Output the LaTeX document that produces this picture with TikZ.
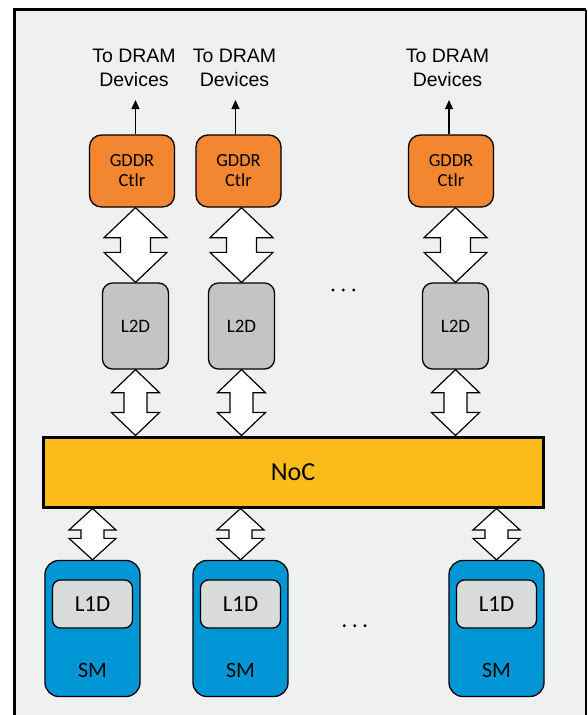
\documentclass[tikz,border=0pt]{standalone}
\usepackage{fontspec}
\setmainfont{Carlito}
\newfontfamily\arialfont{Liberation Sans}
\usetikzlibrary{arrows.meta,calc}

\definecolor{panelbg}{HTML}{EFF0F0}
\definecolor{gddrfill}{HTML}{F38630}
\definecolor{l2fill}{HTML}{C3C4C3}
\definecolor{nocfill}{HTML}{FBBC1B}
\definecolor{smfill}{HTML}{0095D5}
\definecolor{l1fill}{HTML}{D9DADA}

\tikzset{
  gddrbox/.style={draw=black, line width=1.3pt, fill=gddrfill, rounded corners=12pt,
    minimum width=85pt, minimum height=72pt, inner sep=0pt, align=center,
    font=\fontsize{18.5}{20}\selectfont},
  l2box/.style={draw=black, line width=1.3pt, fill=l2fill, rounded corners=10pt,
    minimum width=66pt, minimum height=86pt, inner sep=0pt,
    font=\fontsize{19}{20}\selectfont},
  smbox/.style={draw=black, line width=1.3pt, fill=smfill, rounded corners=14pt,
    minimum width=95pt, minimum height=136pt, inner sep=0pt},
  l1box/.style={draw=black, line width=1.3pt, fill=l1fill, rounded corners=8pt,
    minimum width=80pt, minimum height=48pt, inner sep=0pt,
    font=\fontsize{23}{24}\selectfont},
  smlabel/.style={font=\fontsize{22}{24}\selectfont, inner sep=0pt},
  nocbox/.style={draw=black, line width=3pt, fill=nocfill,
    minimum width=500pt, minimum height=70pt, inner sep=0pt,
    font=\fontsize{26}{28}\selectfont},
  dramlabel/.style={align=center, inner sep=0pt,
    font=\arialfont\fontsize{19.5}{24}\selectfont},
  dramarrow/.style={line width=1.3pt, -{Triangle[width=8pt,length=9pt]}},
  dualstyle/.style={draw=black, fill=white, line width=1.2pt, line join=miter},
  dotmark/.style={fill=black, draw=none}
}

% Hollow double-headed block arrow between two vertically stacked points:
% #1 upper end, #2 lower end (x taken from #2), #3 half head width,
% #4 half shaft width, #5 head length
\newcommand\dualarrow[5]{%
  \path[dualstyle] let \p1=(#1), \p2=(#2) in
    (\x2,\y1) -- (\x2+#3pt,\y1-#5pt) -- (\x2+#4pt,\y1-#5pt)
    -- (\x2+#4pt,\y2+#5pt) -- (\x2+#3pt,\y2+#5pt) -- (\x2,\y2)
    -- (\x2-#3pt,\y2+#5pt) -- (\x2-#4pt,\y2+#5pt)
    -- (\x2-#4pt,\y1-#5pt) -- (\x2-#3pt,\y1-#5pt) -- cycle;}

\begin{document}
\begin{tikzpicture}[x=1pt,y=-1pt]
  % page and panel
  \fill[white] (0,0) rectangle (587,715);
  \useasboundingbox (0,0) rectangle (587,715);
  \fill[panelbg] (15,10) rectangle (586,715);
  \draw[line width=3pt] (14.5,715) -- (14.5,9.5) -- (586,9.5);
  \draw[line width=1.5pt] (585.8,9.5) -- (585.8,715);

  % memory controllers
  \node[gddrbox] (g1) at (132,171) {GDDR\\Ctlr};
  \node[gddrbox] (g2) at (238.5,171) {GDDR\\Ctlr};
  \node[gddrbox] (g3) at (451,171) {GDDR\\Ctlr};

  % off-chip labels
  \node[dramlabel] (d1) at (134,68) {To DRAM\\Devices};
  \node[dramlabel] (d2) at (234.5,68) {To DRAM\\Devices};
  \node[dramlabel] (d3) at (447.5,68) {To DRAM\\Devices};
  \draw[dramarrow] (g1.north -| d1.south) ++(1.5,0) coordinate (a1) -- ($(d1.south)+(1.5,13)$);
  \draw[dramarrow] (g2.north -| d2.south) ++(1,0) coordinate (a2) -- ($(d2.south)+(1,13)$);
  \draw[dramarrow] (g3.north -| d3.south) ++(1.5,0) coordinate (a3) -- ($(d3.south)+(1.5,13)$);

  % L2 slices
  \node[l2box] (l1) at (135.5,326) {L2D};
  \node[l2box] (l2) at (241.5,326) {L2D};
  \node[l2box] (l3) at (455.5,326) {L2D};

  % interconnect
  \node[nocbox] (noc) at (293,472) {NoC};

  % streaming multiprocessors
  \foreach \i/\x in {1/92.5, 2/240.5, 3/496.5} {
    \node[smbox] (sm\i) at (\x,628.5) {};
    \node[l1box] (c\i) at (\x,604) {L1D};
    \node[smlabel] (s\i) at (\x,670) {SM};
  }

  % links
  \dualarrow{g1.south}{l1.north}{31.5}{15}{30}
  \dualarrow{g2.south}{l2.north}{31.5}{15}{30}
  \dualarrow{g3.south}{l3.north}{31.5}{15}{30}

  \dualarrow{l1.south}{noc.north -| l1.south}{24}{11.5}{23}
  \dualarrow{l2.south}{noc.north -| l2.south}{24}{11.5}{23}
  \dualarrow{l3.south}{noc.north -| l3.south}{24}{11.5}{23}

  \dualarrow{noc.south -| sm1.north}{sm1.north}{23.5}{11.5}{21.5}
  \dualarrow{noc.south -| sm2.north}{sm2.north}{23.5}{11.5}{21.5}
  \dualarrow{noc.south -| sm3.north}{sm3.north}{23.5}{11.5}{21.5}

  % ellipses
  \foreach \x in {333,343.3,353.7} \fill[dotmark] (\x,290) circle (1.6);
  \foreach \x in {344.3,354.7,365} \fill[dotmark] (\x,625.7) circle (1.6);
\end{tikzpicture}
\end{document}
